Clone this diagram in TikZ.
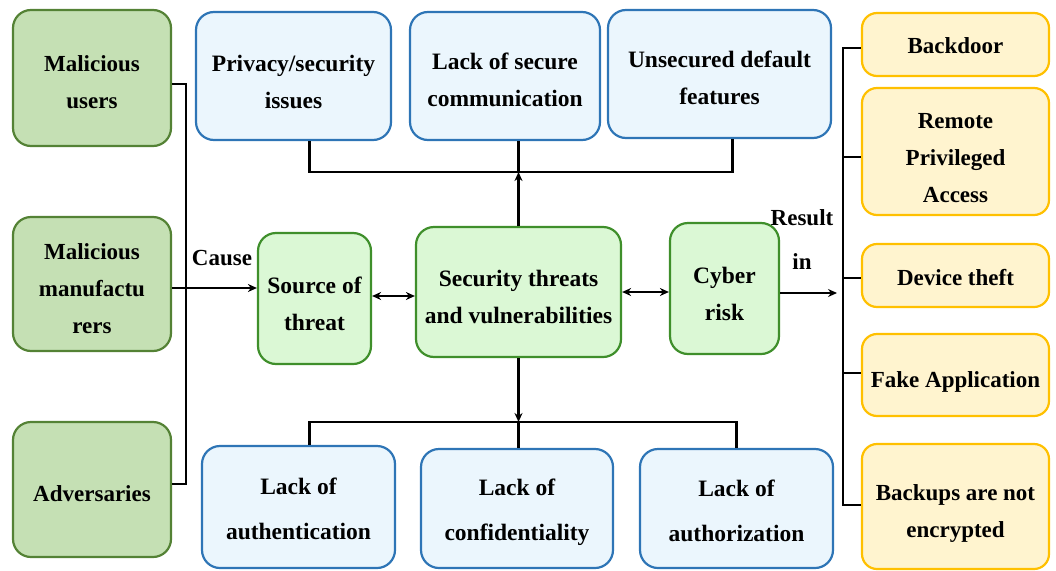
\documentclass[tikz,border=0pt]{standalone}
\usepackage{fontspec}
\setmainfont{Liberation Serif}
\usetikzlibrary{arrows.meta,calc}

\definecolor{lgfill}{HTML}{C5E0B4}
\definecolor{lgdraw}{HTML}{548235}
\definecolor{cgfill}{HTML}{DBF8D5}
\definecolor{cgdraw}{HTML}{3F8F2B}
\definecolor{bfill}{HTML}{EBF6FD}
\definecolor{bdraw}{HTML}{2E75B6}
\definecolor{yfill}{HTML}{FFF4CF}
\definecolor{ydraw}{HTML}{FFC000}

\tikzset{
  boxbase/.style={rounded corners=18pt, line width=2.2pt, inner sep=0pt},
  actor/.style={boxbase, fill=lgfill, draw=lgdraw, minimum width=158pt},
  core/.style={boxbase, fill=cgfill, draw=cgdraw},
  issue/.style={boxbase, fill=bfill, draw=bdraw},
  risk/.style={boxbase, rounded corners=15pt, fill=yfill, draw=ydraw, minimum width=187pt},
  txt/.style={align=center, inner sep=0pt, font=\bfseries\fontsize{23}{37}\selectfont},
  midtxt/.style={txt, font=\bfseries\fontsize{23.5}{37}\selectfont},
  lowtxt/.style={txt, font=\bfseries\fontsize{23.5}{45}\selectfont},
  link/.style={line width=2.2pt},
  arr/.style={link, -{Stealth[length=9pt,width=8pt]}},
  darr/.style={link, {Stealth[length=9pt,width=8pt]}-{Stealth[length=9pt,width=8pt]}},
  tag/.style={font=\bfseries\fontsize{23}{27}\selectfont},
}

\begin{document}
\begin{tikzpicture}[x=1pt, y=-1pt]
  \useasboundingbox (0,0) rectangle (1056,570);

  % sources of threat
  \node[actor, minimum height=136pt] (mu)  at (92,78)    {};
  \node[actor, minimum height=134pt] (mm)  at (92,284)   {};
  \node[actor, minimum height=135pt] (adv) at (92,489.5) {};
  \node[txt] (mu-t)  at ([yshift=-4pt]mu.center)  {Malicious\\users};
  \node[txt] (mm-t)  at ([yshift=-5pt]mm.center)  {Malicious\\manufactu\\rers};
  \node[txt] (adv-t) at ([yshift=-4pt]adv.center) {Adversaries};

  % vulnerabilities above
  \node[issue, minimum width=195pt, minimum height=128pt] (priv) at (293.5,76) {};
  \node[issue, minimum width=190pt, minimum height=128pt] (comm) at (505,76)   {};
  \node[issue, minimum width=223pt, minimum height=128pt] (dflt) at (719.5,74) {};
  \node[midtxt] (priv-t) at ([yshift=-6pt]priv.center) {Privacy/security\\issues};
  \node[midtxt] (comm-t) at ([yshift=-4pt]comm.center) {Lack of secure\\communication};
  \node[midtxt] (dflt-t) at ([yshift=-4pt]dflt.center) {Unsecured default\\features};

  % central chain
  \node[core, minimum width=113pt, minimum height=131pt] (src) at (314.5,298.5) {};
  \node[core, minimum width=205pt, minimum height=130pt] (sec) at (518.5,292)   {};
  \node[core, minimum width=109pt, minimum height=131pt] (cyb) at (724.5,288.5) {};
  \node[midtxt] (src-t) at ([yshift=-5pt]src.center) {Source of\\threat};
  \node[midtxt] (sec-t) at ([yshift=-5pt]sec.center) {Security threats\\and vulnerabilities};
  \node[midtxt] (cyb-t) at ([yshift=-5pt]cyb.center) {Cyber\\risk};

  % vulnerabilities below
  \node[issue, minimum width=193pt, minimum height=122pt] (auth)  at (298.5,507)   {};
  \node[issue, minimum width=192pt, minimum height=119pt] (conf)  at (517,508.5)   {};
  \node[issue, minimum width=193pt, minimum height=119pt] (authz) at (736.5,508.5) {};
  \node[lowtxt] (auth-t)  at ([yshift=-2pt]auth.center)  {Lack of\\authentication};
  \node[lowtxt] (conf-t)  at ([yshift=-4pt]conf.center)  {Lack of\\confidentiality};
  \node[lowtxt] (authz-t) at ([yshift=-2pt]authz.center) {Lack of\\authorization};

  % resulting risks
  \node[risk, minimum height=63pt]  (bd)  at (955.5,44.5)  {};
  \node[risk, minimum height=127pt] (rpa) at (955.5,151.5) {};
  \node[risk, minimum height=63pt]  (dt)  at (955.5,275.5) {};
  \node[risk, minimum height=82pt]  (fa)  at (955.5,375)   {};
  \node[risk, minimum height=125pt] (bk)  at (955.5,506.5) {};
  \node[txt] (bd-t)  at ([yshift=-1pt]bd.center)  {Backdoor};
  \node[txt] (rpa-t) at ([yshift=-7pt]rpa.center) {Remote\\Privileged\\Access};
  \node[txt] (dt-t)  at ([yshift=-2pt]dt.center)  {Device theft};
  \node[txt] (fa-t)  at ([yshift=-7pt]fa.center)  {Fake Application};
  \node[txt] (bk-t)  at ([yshift=-7pt]bk.center)  {Backups are not\\encrypted};

  % bus lines
  \coordinate (lx) at (186,0);
  \coordinate (rx) at (843,0);
  \coordinate (ty) at (0,172);
  \coordinate (by) at (0,422);

  % left bus
  \draw[link] ([yshift=-6pt]mu.east) -- ([yshift=-6pt]mu.east -| lx)
    -- ([yshift=5.5pt]adv.east -| lx) -- ([yshift=5.5pt]adv.east);
  \draw[arr] ([yshift=-4pt]mm.east) -- ([yshift=-4pt]mm.east -| src.west);
  \node[tag] (cause) at (222,258) {Cause};

  % central arrows
  \draw[darr] ([yshift=2.5pt]src.east) -- ([yshift=2.5pt]src.east -| sec.west);
  \draw[darr] (sec.east) -- (sec.east -| cyb.west);

  % upper tree
  \draw[link] ([xshift=16pt]priv.south) -- ([xshift=16pt]priv.south |- ty)
    -- ([xshift=13pt]dflt.south |- ty) -- ([xshift=13pt]dflt.south);
  \draw[link] (sec.north |- comm.south) -- (sec.north |- ty);
  \draw[arr] (sec.north) -- (sec.north |- ty);

  % lower tree
  \draw[link] ([xshift=11pt]auth.north) -- ([xshift=11pt]auth.north |- by)
    -- (authz.north |- by) -- (authz.north);
  \draw[link] (sec.south |- by) -- (sec.south |- conf.north);
  \draw[arr] (sec.south) -- (sec.south |- by);

  % right bus
  \draw[arr] ([yshift=-4.5pt]cyb.east) -- ([yshift=-4.5pt,xshift=-6pt]cyb.east -| rx);
  \node[tag] (res) at (802,218) {Result};
  \node[tag] (rin) at (802,262) {in};
  \draw[link] ([yshift=-3.5pt]bd.west) -- ([yshift=-3.5pt]bd.west -| rx)
    -- ([yshift=1.5pt]bk.west -| rx) -- ([yshift=1.5pt]bk.west);
  \draw[link] ([yshift=-5.5pt]rpa.west) -- ([yshift=-5.5pt]rpa.west -| rx);
  \draw[link] ([yshift=-2.5pt]dt.west) -- ([yshift=-2.5pt]dt.west -| rx);
  \draw[link] ([yshift=2pt]fa.west) -- ([yshift=2pt]fa.west -| rx);
\end{tikzpicture}
\end{document}
